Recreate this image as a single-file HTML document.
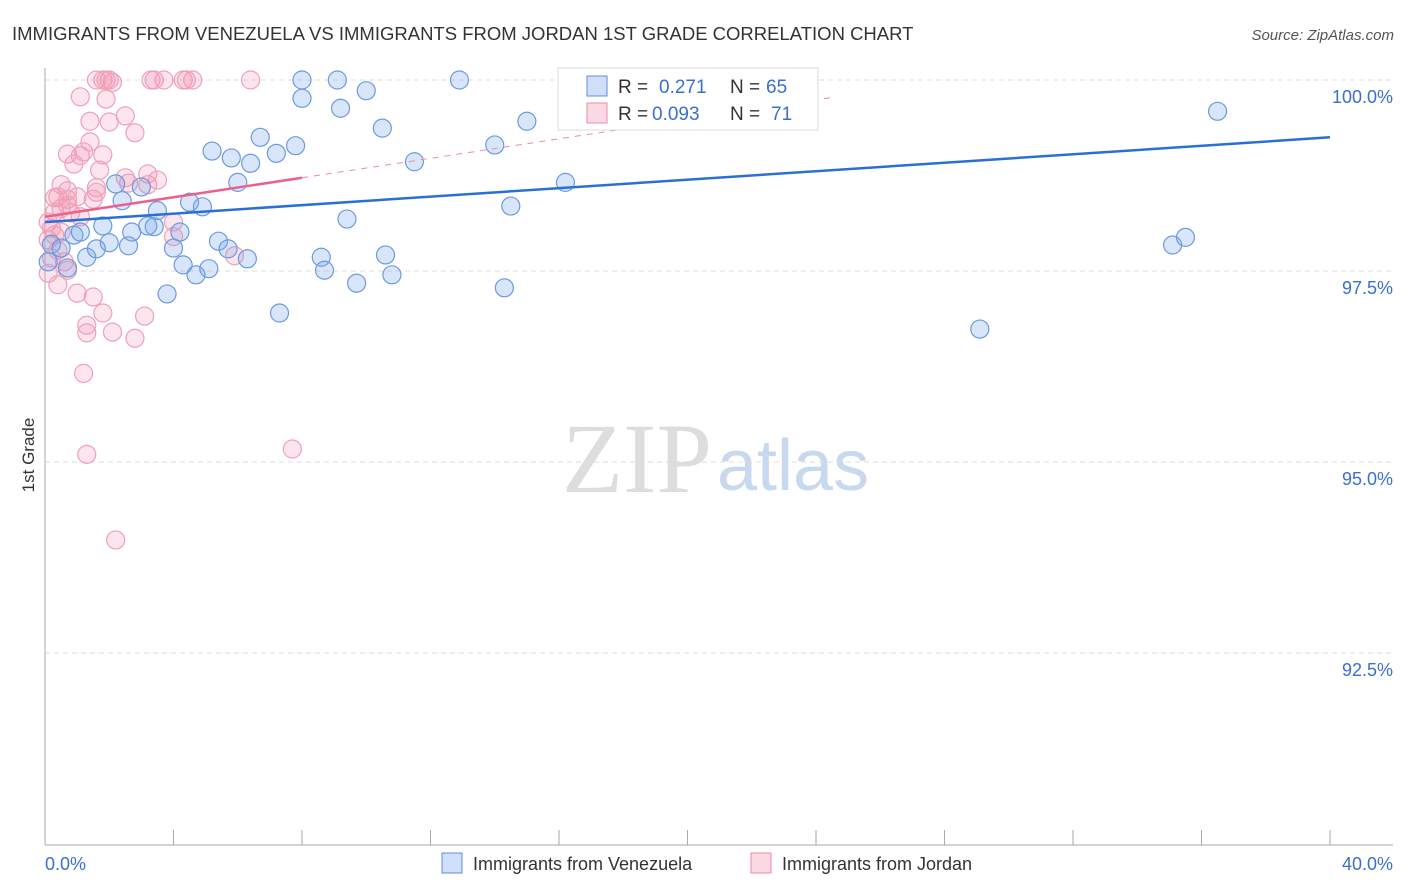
<!DOCTYPE html>
<html><head><meta charset="utf-8"><style>
body{margin:0;background:#fff;font-family:"Liberation Sans",sans-serif}
svg{display:block}
</style></head><body>
<svg id="chart" width="1406" height="892">
<text x="12" y="40" font-size="18.5" fill="#333">IMMIGRANTS FROM VENEZUELA VS IMMIGRANTS FROM JORDAN 1ST GRADE CORRELATION CHART</text>
<text x="1394" y="40" font-size="15" fill="#555" font-style="italic" text-anchor="end">Source: ZipAtlas.com</text>
<text x="34" y="455" font-size="17" fill="#333" text-anchor="middle" transform="rotate(-90 34 455)">1st Grade</text>
<g><text x="712" y="492" font-size="100" font-family="Liberation Serif,serif" fill="#ddd" text-anchor="end">ZIP</text><text x="717" y="490" font-size="72" fill="#c8d8ef" >atlas</text></g>
<g id="grid"></g><g id="marks"></g><g id="lines"></g>
<g>
<rect x="558" y="68" width="260" height="62" fill="#fff" stroke="#ddd"/>
<rect x="587" y="76" width="20" height="20" fill="rgba(100,150,230,0.3)" stroke="#5b8fe0"/>
<rect x="587" y="103" width="20" height="20" fill="rgba(240,130,160,0.3)" stroke="#ec8aa8"/>
<g font-size="19" fill="#333">
<text x="618" y="93">R =</text><text x="659" y="93" fill="#3a6fd0">0.271</text><text x="730" y="93">N =</text><text x="766" y="93" fill="#3a6fd0">65</text>
<text x="618" y="120">R =</text><text x="652" y="120" fill="#3a6fd0">0.093</text><text x="730" y="120">N =</text><text x="771" y="120" fill="#3a6fd0">71</text>
</g>
</g>
<g>
<rect x="442" y="853" width="20" height="20" fill="rgba(100,150,230,0.3)" stroke="#5b8fe0"/>
<text x="473" y="870" font-size="18" fill="#333">Immigrants from Venezuela</text>
<rect x="751" y="853" width="20" height="20" fill="rgba(240,130,160,0.3)" stroke="#ec8aa8"/>
<text x="782" y="870" font-size="18" fill="#333">Immigrants from Jordan</text>
</g>
</svg>
<script>
const yTicks=[100,97.5,95,92.5];
const yTickLabels=["100.0%","97.5%","95.0%","92.5%"];
const xTickLabels=["0.0%","40.0%"];
const blueX=[8.0,9.1,12.9,17.2,21.3,21.9,8.0,9.2,10.0,10.5,36.5,5.2,5.8,6.4,6.7,7.2,7.8,11.5,14.0,15.0,16.2,6.0,2.2,3.0,2.4,4.5,4.9,3.5,9.4,14.5,1.8,2.7,3.2,3.4,4.2,0.9,1.1,0.2,0.5,1.3,1.6,2.0,2.6,4.0,5.4,5.7,6.3,4.3,4.7,5.1,3.8,7.3,8.6,8.7,9.7,10.6,10.8,14.3,35.1,35.5,29.1,0.7,0.1];
const blueY=[100.0,100.0,100.0,100.0,100.0,100.0,99.76,99.63,99.86,99.37,99.59,99.07,98.98,98.91,99.25,99.04,99.14,98.93,99.15,99.46,98.66,98.66,98.64,98.60,98.42,98.40,98.34,98.29,98.18,98.35,98.09,98.01,98.09,98.08,98.01,97.97,98.01,97.85,97.80,97.68,97.79,97.87,97.83,97.80,97.89,97.79,97.66,97.58,97.45,97.53,97.20,96.95,97.68,97.51,97.34,97.71,97.45,97.28,97.84,97.94,96.74,97.54,97.62];
const pinkX=[1.6,1.8,1.9,2.0,2.1,3.3,3.4,3.7,4.3,4.4,4.6,6.4,1.1,1.9,2.5,1.4,2.0,2.8,0.7,1.1,1.2,1.8,0.9,1.7,1.4,0.5,0.7,0.4,0.7,1.0,1.6,2.5,2.6,3.2,3.2,3.5,1.5,1.6,0.3,0.3,0.5,0.7,0.8,1.1,0.2,0.3,0.1,0.5,0.4,0.2,0.6,0.1,0.4,1.0,1.5,1.8,1.3,1.3,2.1,2.8,3.1,4.0,4.0,5.9,1.2,1.3,7.7,2.2,0.7,0.1];
const pinkY=[100.0,100.0,100.0,100.0,99.97,100.0,100.0,100.0,100.0,100.0,100.0,100.0,99.78,99.75,99.53,99.46,99.45,99.31,99.03,99.01,99.06,99.02,98.90,98.82,99.19,98.63,98.55,98.47,98.44,98.47,98.53,98.72,98.65,98.77,98.63,98.69,98.44,98.59,98.46,98.27,98.32,98.36,98.26,98.21,98.06,97.97,97.91,98.01,97.77,97.67,97.62,97.47,97.32,97.21,97.16,96.95,96.79,96.69,96.70,96.62,96.91,97.95,98.14,97.70,96.16,95.10,95.17,93.98,97.51,98.14];
const blueFit=[98.14,99.25]; // value at x=0 and x=40
const pinkFit=[98.21,98.72]; // value at x=0 and x=8
const NS="http://www.w3.org/2000/svg";
const sx=v=>45+v*(1285/40);
const sy=v=>80+(100-v)*76.4;
function mk(tag,attrs,parent){const e=document.createElementNS(NS,tag);for(const k in attrs)e.setAttribute(k,attrs[k]);document.getElementById(parent).appendChild(e);return e;}
yTicks.forEach((t,i)=>{
 const l=mk('line',{x1:45,x2:1393,y1:sy(t),y2:sy(t),stroke:'#ddd','stroke-dasharray':'5,4'},'grid');
 
 
 const tx=mk('text',{x:1393,y:sy(t)+23,'font-size':18,fill:'#3a6fd0','text-anchor':'end'},'grid');
 tx.textContent=yTickLabels[i];
 
 
});
mk('line',{x1:45,x2:45,y1:68,y2:845,stroke:'#aaa'},'grid');
mk('line',{x1:45,x2:1393,y1:845,y2:845,stroke:'#aaa'},'grid');
for(let i=0;i<=10;i++){const t=mk('line',{x1:sx(i*4),x2:sx(i*4),y1:830,y2:845,stroke:'#aaa'},'grid');
 
 }
[[0,'start'],[40,'end']].forEach(([v,a],i)=>{const tx=mk('text',{x:sx(v)+(i?63:0),y:870,'font-size':18,fill:'#3a6fd0','text-anchor':a},'grid');tx.textContent=xTickLabels[i];
 
 });
pinkX.forEach((x,i)=>{const c=mk('circle',{cx:sx(x),cy:sy(pinkY[i]),r:9,fill:'rgba(245,150,180,0.25)',stroke:'#f0a0b8','stroke-width':1.2},'marks');
 
 });
blueX.forEach((x,i)=>{const c=mk('circle',{cx:sx(x),cy:sy(blueY[i]),r:9,fill:'rgba(120,165,235,0.28)',stroke:'#6a9ae2','stroke-width':1.2},'marks');
 
 });
const ps=(pinkFit[1]-pinkFit[0])/8;
const pd=mk('line',{x1:sx(8),y1:sy(pinkFit[1]),x2:sx(24.6),y2:sy(pinkFit[0]+ps*24.6),stroke:'#ec8aa8','stroke-dasharray':'6,6','stroke-width':1},'lines');


const pl=mk('line',{x1:sx(0),y1:sy(pinkFit[0]),x2:sx(8),y2:sy(pinkFit[1]),stroke:'#e8638c','stroke-width':2.5},'lines');


const bl=mk('line',{x1:sx(0),y1:sy(blueFit[0]),x2:sx(40),y2:sy(blueFit[1]),stroke:'#2a6fd6','stroke-width':2.5},'lines');


</script>
</body></html>
